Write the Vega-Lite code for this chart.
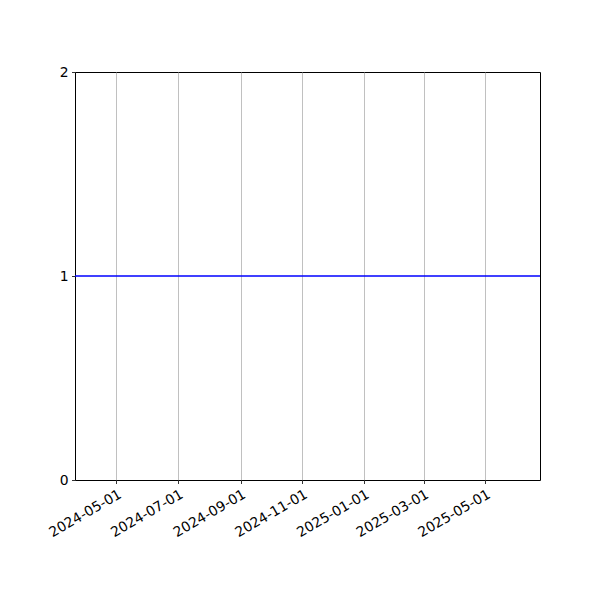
{
  "$schema": "https://vega.github.io/schema/vega-lite/v6.json",
  "width": 465,
  "height": 408,
  "autosize": "none",
  "padding": {"left": 75, "top": 72, "right": 60, "bottom": 120},
  "background": "white",
  "config": {
    "view": {"stroke": "black", "strokeWidth": 1},
    "axis": {
      "labelFont": "DejaVu Sans",
      "labelFontSize": 13.9,
      "labelColor": "black",
      "tickColor": "black",
      "tickSize": 3.5,
      "tickWidth": 0.8,
      "labelPadding": 3.5,
      "labelOverlap": false,
      "labelFlush": false,
      "domain": false,
      "title": null
    }
  },
  "data": {
    "values": [
      {"date": "2024-03-21", "value": 1},
      {"date": "2025-06-24", "value": 1}
    ],
    "format": {"parse": {"date": "date:'%Y-%m-%d'"}}
  },
  "mark": {"type": "line", "color": "#0000ff", "strokeWidth": 1.5, "clip": true},
  "encoding": {
    "x": {
      "field": "date",
      "type": "temporal",
      "scale": {"nice": false},
      "axis": {
        "values": [
          {"year": 2024, "month": 5, "date": 1},
          {"year": 2024, "month": 7, "date": 1},
          {"year": 2024, "month": 9, "date": 1},
          {"year": 2024, "month": 11, "date": 1},
          {"year": 2025, "month": 1, "date": 1},
          {"year": 2025, "month": 3, "date": 1},
          {"year": 2025, "month": 5, "date": 1}
        ],
        "format": "%Y-%m-%d",
        "labelAngle": -30,
        "labelAlign": "right",
        "labelBaseline": "top",
        "grid": true,
        "gridColor": "#b0b0b0",
        "gridWidth": 0.8
      }
    },
    "y": {
      "field": "value",
      "type": "quantitative",
      "scale": {"domain": [0, 2], "nice": false, "zero": false},
      "axis": {"values": [0, 1, 2], "labelExpr": "format(datum.value, 'd')", "grid": false, "labelBaseline": "middle"}
    }
  }
}
